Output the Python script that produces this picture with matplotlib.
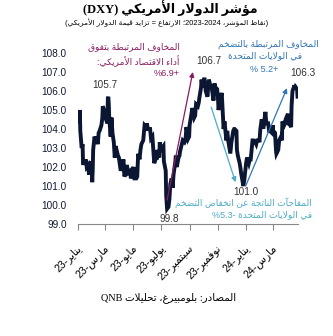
import re
import matplotlib
matplotlib.use("Agg")
import matplotlib.pyplot as plt
import matplotlib.dates as mdates
from matplotlib.transforms import ScaledTranslation
import pandas as pd

# DXY index levels, 2023-2024
dates = [
    "2023-01-03", "2023-01-04", "2023-01-05", "2023-01-06", "2023-01-09", "2023-01-11", "2023-01-12",
    "2023-01-16", "2023-01-18", "2023-01-20", "2023-01-23", "2023-01-25", "2023-01-27", "2023-01-30",
    "2023-02-01", "2023-02-02", "2023-02-03", "2023-02-06", "2023-02-08", "2023-02-10", "2023-02-13",
    "2023-02-15", "2023-02-17", "2023-02-21", "2023-02-23", "2023-02-24", "2023-02-28", "2023-03-02",
    "2023-03-03", "2023-03-06", "2023-03-07", "2023-03-08", "2023-03-09", "2023-03-10", "2023-03-13",
    "2023-03-15", "2023-03-17", "2023-03-20", "2023-03-22", "2023-03-24", "2023-03-27", "2023-03-29",
    "2023-03-31", "2023-04-04", "2023-04-06", "2023-04-10", "2023-04-12", "2023-04-14", "2023-04-17",
    "2023-04-19", "2023-04-21", "2023-04-25", "2023-04-26", "2023-04-28", "2023-05-02", "2023-05-04",
    "2023-05-08", "2023-05-10", "2023-05-12", "2023-05-15", "2023-05-17", "2023-05-19", "2023-05-23",
    "2023-05-25", "2023-05-26", "2023-05-30", "2023-05-31", "2023-06-02", "2023-06-05", "2023-06-07",
    "2023-06-09", "2023-06-12", "2023-06-14", "2023-06-16", "2023-06-20", "2023-06-22", "2023-06-23",
    "2023-06-27", "2023-06-28", "2023-06-30", "2023-07-03", "2023-07-06", "2023-07-07", "2023-07-11",
    "2023-07-12", "2023-07-14", "2023-07-17", "2023-07-19", "2023-07-21", "2023-07-24", "2023-07-26",
    "2023-07-28", "2023-08-01", "2023-08-02", "2023-08-04", "2023-08-08", "2023-08-10", "2023-08-11",
    "2023-08-15", "2023-08-17", "2023-08-21", "2023-08-23", "2023-08-25", "2023-08-29", "2023-08-31",
    "2023-09-01", "2023-09-05", "2023-09-07", "2023-09-11", "2023-09-13", "2023-09-15", "2023-09-19",
    "2023-09-21", "2023-09-22", "2023-09-26", "2023-09-27", "2023-09-29", "2023-10-02", "2023-10-03",
    "2023-10-05", "2023-10-06", "2023-10-10", "2023-10-12", "2023-10-13", "2023-10-17", "2023-10-19",
    "2023-10-23", "2023-10-25", "2023-10-27", "2023-10-31", "2023-11-02", "2023-11-03", "2023-11-07",
    "2023-11-10", "2023-11-14", "2023-11-16", "2023-11-20", "2023-11-22", "2023-11-24", "2023-11-28",
    "2023-11-29", "2023-12-01", "2023-12-05", "2023-12-07", "2023-12-08", "2023-12-12", "2023-12-13",
    "2023-12-15", "2023-12-19", "2023-12-21", "2023-12-22", "2023-12-27", "2023-12-29",
    "2024-01-02", "2024-01-04", "2024-01-08", "2024-01-10", "2024-01-12", "2024-01-16", "2024-01-18",
    "2024-01-22", "2024-01-24", "2024-01-26", "2024-01-30", "2024-01-31", "2024-02-02", "2024-02-05",
    "2024-02-07", "2024-02-09", "2024-02-13", "2024-02-15", "2024-02-19", "2024-02-21", "2024-02-23",
    "2024-02-27", "2024-02-29", "2024-03-01", "2024-03-05", "2024-03-07", "2024-03-08", "2024-03-12",
    "2024-03-14", "2024-03-18", "2024-03-20", "2024-03-21", "2024-03-25", "2024-03-27", "2024-03-28",
    "2024-04-02", "2024-04-04", "2024-04-05", "2024-04-09", "2024-04-10", "2024-04-12", "2024-04-15",
    "2024-04-16", "2024-04-18", "2024-04-19", "2024-04-22", "2024-04-23",
]
dxy = [
    104.5, 104.3, 105.0, 103.9, 103.0, 103.2, 102.2,
    102.2, 102.4, 102.0, 102.1, 101.6, 101.9, 102.3,
    101.2, 101.8, 102.9, 103.6, 103.4, 103.6, 103.2,
    103.8, 103.9, 104.2, 104.6, 105.2, 104.9, 105.0,
    104.5, 104.3, 105.6, 105.7, 105.3, 104.6, 103.6,
    104.6, 103.8, 103.3, 102.5, 103.1, 102.8, 102.6,
    102.5, 101.8, 102.0, 102.4, 101.5, 101.6, 102.1,
    101.9, 101.7, 101.8, 101.4, 101.7, 102.0, 101.4,
    101.4, 101.5, 102.7, 102.4, 102.9, 103.2, 103.4,
    103.9, 104.2, 104.1, 104.3, 104.0, 104.0, 104.0,
    103.5, 103.6, 102.9, 102.2, 102.5, 102.4, 102.9,
    102.5, 103.3, 102.9, 103.0, 103.1, 102.3, 101.8,
    100.5, 99.8, 99.9, 100.3, 101.1, 101.4, 100.9,
    101.6, 102.3, 102.6, 102.0, 102.5, 102.6, 102.8,
    103.2, 103.4, 103.3, 103.4, 104.1, 103.5, 103.6,
    104.2, 104.8, 105.1, 104.6, 104.7, 105.3, 105.2,
    105.4, 105.6, 106.2, 106.6, 106.2, 106.5, 106.7,
    106.3, 106.0, 105.7, 106.4, 106.6, 106.2, 106.2,
    105.5, 106.4, 106.2, 106.1, 105.5, 105.0, 105.6,
    105.9, 104.0, 104.4, 103.4, 103.9, 103.4, 102.8,
    102.8, 103.3, 103.9, 104.0, 104.0, 103.9, 102.9,
    102.6, 102.2, 101.9, 101.7, 101.0, 101.3,
    102.2, 102.5, 102.2, 102.4, 102.4, 103.4, 103.4,
    103.3, 103.2, 103.4, 103.4, 103.3, 104.0, 104.5,
    104.1, 104.1, 104.9, 104.3, 104.3, 103.9, 103.9,
    103.8, 104.2, 103.9, 103.8, 102.9, 102.7, 102.9,
    103.4, 103.6, 103.4, 104.4, 104.2, 104.3, 104.5,
    104.8, 104.2, 104.3, 104.1, 105.2, 106.0, 106.2,
    106.3, 106.1, 106.2, 106.1, 105.7,
]
tick_dates = ["2023-01-01", "2023-03-01", "2023-05-01", "2023-07-01",
              "2023-09-01", "2023-11-01", "2024-01-01", "2024-03-01"]
tick_labels = ["يناير-23", "مارس-23", "مايو-23", "يوليو-23",
               "سبتمبر-23", "نوفمبر-23", "يناير-24", "مارس-24"]
yticks = [99, 100, 101, 102, 103, 104, 105, 106, 107, 108]

# Arabic contextual forms (isolated code point; +1 final, +2 initial, +3 medial)
DUAL = {'ب': 0xFE8F, 'ت': 0xFE95, 'ث': 0xFE99, 'ج': 0xFE9D, 'ح': 0xFEA1, 'خ': 0xFEA5,
        'س': 0xFEB1, 'ش': 0xFEB5, 'ص': 0xFEB9, 'ض': 0xFEBD, 'ط': 0xFEC1, 'ظ': 0xFEC5,
        'ع': 0xFEC9, 'غ': 0xFECD, 'ف': 0xFED1, 'ق': 0xFED5, 'ك': 0xFED9, 'ل': 0xFEDD,
        'م': 0xFEE1, 'ن': 0xFEE5, 'ه': 0xFEE9, 'ي': 0xFEF1, 'ئ': 0xFE89}
RIGHT = {'آ': 0xFE81, 'أ': 0xFE83, 'ؤ': 0xFE85, 'إ': 0xFE87, 'ا': 0xFE8D, 'ة': 0xFE93,
         'د': 0xFEA9, 'ذ': 0xFEAB, 'ر': 0xFEAD, 'ز': 0xFEAF, 'و': 0xFEED, 'ى': 0xFEEF}
LAM_ALEF = {'آ': 0xFEF5, 'أ': 0xFEF7, 'إ': 0xFEF9, 'ا': 0xFEFB}


def shape(s):
    out, link, i = [], False, 0
    while i < len(s):
        c = s[i]
        nxt = s[i + 1] if i + 1 < len(s) else ''
        if c == 'ل' and nxt in LAM_ALEF:
            out.append(chr(LAM_ALEF[nxt] + link))
            link = False
            i += 2
            continue
        if c in DUAL:
            fwd = nxt in DUAL or nxt in RIGHT
            out.append(chr(DUAL[c] + link + 2 * fwd))
            link = fwd
        elif c in RIGHT:
            out.append(chr(RIGHT[c] + link))
            link = False
        elif c == 'ء':
            out.append('\uFE80')
            link = False
        else:
            out.append(c)
            link = False
        i += 1
    return ''.join(out)


def ar(text):
    # right-to-left line: latin/number runs keep their order, the rest is reversed
    runs = re.findall(r'[A-Za-z0-9]+(?:[.\-][0-9]+)*|[^A-Za-z0-9]+', text)
    mirror = str.maketrans('()', ')(')
    parts = []
    for run in reversed(runs):
        if re.match(r'[A-Za-z0-9]', run):
            parts.append(run)
        else:
            parts.append(shape(run)[::-1].translate(mirror))
    return ''.join(parts)


AR_FONT = ['Liberation Sans', 'DejaVu Sans']
NAVY = '#0b1633'
PURPLE = '#8a1c62'
BLUE = '#2e75b6'
CYAN = '#4bacc6'

W, H = 333, 336
fig = plt.figure(figsize=(W / 100, H / 100), dpi=100)
ax = fig.add_axes([78 / W, 1 - 224 / H, 220 / W, 171 / H])


def fx(px):
    return px / W


def fy(py):
    return 1 - py / H


s = pd.Series(dxy, index=pd.to_datetime(dates))
ax.plot(s.index, s.values, color=NAVY, lw=2.8, solid_joinstyle='miter')

ax.set_xlim(pd.Timestamp("2023-01-01"), pd.Timestamp("2024-04-24"))
ax.set_ylim(99, 108)
ax.set_yticks(yticks)
ax.set_yticklabels([f"{v:.1f}" for v in yticks], family='Liberation Sans',
                   fontsize=7.2, color='#111a33')
ax.tick_params(axis='y', length=0, pad=8)

ax.set_xticks(pd.to_datetime(tick_dates))
ax.set_xticklabels([ar(t) for t in tick_labels], rotation=45, ha='right', va='center',
                   rotation_mode='anchor', family=AR_FONT, fontsize=7.6, color='black')
ax.tick_params(axis='x', length=4, width=0.8, color='#888888', direction='out', pad=12)
for lbl in ax.get_xticklabels():
    lbl.set_transform(lbl.get_transform() + ScaledTranslation(2 / 100, 0, fig.dpi_scale_trans))

for side in ['top', 'right', 'left']:
    ax.spines[side].set_visible(False)
ax.spines['bottom'].set_color('#888888')
ax.spines['bottom'].set_linewidth(0.8)


def d(day):
    return mdates.date2num(pd.Timestamp(day))


# value labels at the turning points
lbl_kw = dict(family='Liberation Sans', fontsize=7.2, color='#333333', ha='center', va='center')
fig.text(fx(105), fy(85), f"{s.loc['2023-03-08']:.1f}", **lbl_kw)
fig.text(fx(169), fy(219), f"{s.loc['2023-07-14']:.1f}", **lbl_kw)
fig.text(fx(209), fy(61), f"{s.loc['2023-10-03']:.1f}", **lbl_kw)
fig.text(fx(246), fy(192), f"{s.loc['2023-12-27']:.1f}", **lbl_kw)
fig.text(fx(303), fy(73), f"{s.loc['2024-04-16']:.1f}", **lbl_kw)

# move arrows
arrow = dict(arrowstyle='-|>', lw=0.9, shrinkA=0, shrinkB=0, mutation_scale=7)
ax.annotate('', xy=(d("2023-09-08"), 107.0), xytext=(d("2023-07-14"), 100.25),
            arrowprops=dict(color=PURPLE, **arrow), annotation_clip=False)
ax.annotate('', xy=(d("2023-12-10"), 101.2), xytext=(d("2023-10-18"), 105.15),
            arrowprops=dict(color=CYAN, **arrow), annotation_clip=False)
ax.annotate('', xy=(d("2024-03-31"), 106.15), xytext=(d("2024-01-01"), 101.0),
            arrowprops=dict(color=BLUE, **arrow), annotation_clip=False)

note_kw = dict(family=AR_FONT, fontsize=6.5, va='center')
fig.text(fx(180), fy(47), ar("المخاوف المرتبطة بتفوق"), color=PURPLE, ha='right', **note_kw)
fig.text(fx(179), fy(61), ar("أداء الاقتصاد الأمريكي:"), color=PURPLE, ha='right', **note_kw)
fig.text(fx(179), fy(73), ar("+6.9%"), color=PURPLE, ha='right', **note_kw)

fig.text(fx(268), fy(44), ar("المخاوف المرتبطة بالتضخم"), color=BLUE, ha='center', **note_kw)
fig.text(fx(265), fy(56), ar("في الولايات المتحدة"), color=BLUE, ha='center', **note_kw)
fig.text(fx(264), fy(70), ar("+5.2 %"), color=BLUE, ha='center', **note_kw)

fig.text(fx(312), fy(203), ar("المفاجآت الناتجة عن انخفاض التضخم"), color=CYAN, ha='right', **note_kw)
fig.text(fx(312), fy(215), ar("في الولايات المتحدة -5.3%"), color=CYAN, ha='right', **note_kw)

# headings and source
fig.text(fx(170), fy(8), ar("مؤشر الدولار الأمريكي (DXY)"), family=['Liberation Serif', 'DejaVu Sans'],
         fontweight='bold', fontsize=9.0, ha='center', va='center', color='black')
fig.text(fx(167), fy(23), ar("(نقاط المؤشر، 2023-2024؛ الارتفاع = تزايد قيمة الدولار الأمريكي)"),
         family=AR_FONT, fontsize=5.4, ha='center', va='center', color='black')
fig.text(fx(169), fy(298), ar("المصادر: بلومبيرغ، تحليلات QNB"),
         family=['Liberation Serif', 'DejaVu Sans'], fontsize=7.4, ha='center', va='center', color='black')

fig.savefig("out.png", dpi=100)
